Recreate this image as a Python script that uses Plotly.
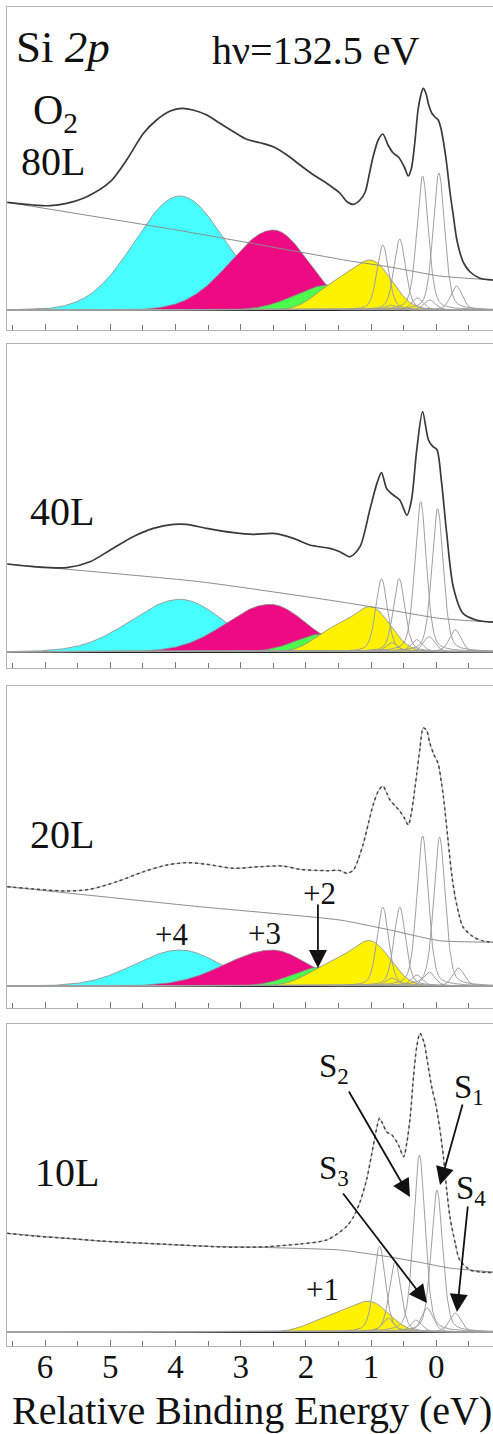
import numpy as np
import plotly.graph_objects as go

# ---------------------------------------------------------------------------
# Si 2p core-level spectra of Si surface after O2 exposure (hv = 132.5 eV)
# energies: relative binding energy (eV); intensities: arbitrary units
# ---------------------------------------------------------------------------
EXPOSURES = ["80L", "40L", "20L", "10L"]

# measured spectra  (E, I)
SPEC_80L = [(6.58, 107.7), (6.18, 105), (5.92, 104.3), (5.67, 106.7), (5.36, 113.3), (5.00, 128.3),
            (4.75, 150), (4.49, 176.7), (4.29, 190), (4.08, 199), (3.90, 201.7), (3.73, 200),
            (3.52, 195), (3.32, 186.7), (3.11, 178.3), (2.91, 170.7), (2.70, 167.3), (2.50, 163.3),
            (2.29, 155), (2.09, 145), (1.88, 135), (1.68, 126.7), (1.48, 117), (1.37, 108.3),
            (1.27, 105.7), (1.17, 110), (1.09, 118), (1.03, 135), (0.97, 153), (0.89, 170),
            (0.82, 176), (0.74, 165), (0.66, 157), (0.58, 153), (0.49, 143), (0.43, 134),
            (0.38, 142), (0.33, 167), (0.28, 200), (0.24, 214), (0.20, 221.7), (0.16, 217),
            (0.12, 206), (0.07, 197), (0.02, 193), (-0.03, 190), (-0.07, 182), (-0.10, 172),
            (-0.13, 160), (-0.16, 146), (-0.21, 118), (-0.26, 95), (-0.31, 72), (-0.36, 58),
            (-0.42, 47), (-0.52, 38), (-0.67, 31.7), (-0.87, 30)]
SPEC_40L = [(6.58, 87.7), (6.18, 85), (5.67, 84), (5.31, 90), (5.00, 101.7), (4.65, 115),
            (4.34, 123.3), (4.03, 127.3), (3.83, 127.3), (3.52, 123.3), (3.11, 119), (2.81, 117.3),
            (2.50, 118.3), (2.19, 113.3), (1.94, 106.7), (1.63, 103.3), (1.48, 100), (1.32, 95),
            (1.17, 105), (1.02, 141.7), (0.91, 168.3), (0.84, 179), (0.76, 163), (0.66, 156.7),
            (0.56, 151.7), (0.45, 136.5), (0.38, 151.7), (0.30, 201.7), (0.21, 240), (0.12, 211.7),
            (0.05, 205), (-0.01, 202), (-0.08, 170), (-0.16, 118.3), (-0.26, 65), (-0.41, 38.3),
            (-0.61, 31.7), (-0.87, 29.5)]
SPEC_20L = [(6.58, 99.3), (6.18, 97), (5.67, 95), (5.31, 96.7), (4.90, 104.3), (4.49, 114.3),
            (4.13, 121), (3.83, 123.3), (3.52, 121.7), (3.11, 117.7), (2.70, 119.3), (2.35, 120),
            (2.09, 116.7), (1.68, 115.3), (1.48, 115.5), (1.37, 112.7), (1.27, 116), (1.20, 126),
            (1.12, 142), (1.04, 163), (0.96, 183), (0.88, 196), (0.82, 200), (0.76, 193),
            (0.71, 186), (0.63, 180), (0.56, 175), (0.49, 168), (0.43, 161), (0.39, 170),
            (0.35, 187), (0.30, 212), (0.25, 238), (0.20, 258), (0.15, 256), (0.10, 243),
            (0.04, 232), (-0.03, 222), (-0.08, 203), (-0.11, 189), (-0.18, 146), (-0.24, 110),
            (-0.29, 89), (-0.35, 71), (-0.41, 59), (-0.57, 49), (-0.72, 45), (-0.87, 43.8)]
SPEC_10L = [(6.58, 98.7), (6.18, 96), (5.67, 93.7), (5.16, 91), (4.64, 89.3), (4.13, 87.7),
            (3.62, 86), (3.11, 84.7), (2.60, 85.3), (2.09, 88), (1.68, 92), (1.48, 100),
            (1.37, 106), (1.27, 115), (1.17, 130), (1.07, 152), (0.97, 185), (0.91, 205),
            (0.87, 213.7), (0.82, 208), (0.76, 200), (0.68, 197), (0.58, 187), (0.50, 175.3),
            (0.45, 190), (0.40, 215), (0.35, 255), (0.30, 285), (0.25, 298.7), (0.19, 290),
            (0.13, 268), (0.07, 245), (0.01, 228), (-0.05, 205), (-0.11, 175), (-0.16, 142),
            (-0.21, 115), (-0.29, 89), (-0.36, 72), (-0.52, 62), (-0.67, 60), (-0.87, 59.5)]

# Shirley-type backgrounds (E, I)
BG_80L = [(6.58, 107.7), (3.98, 80), (2.86, 67), (1.32, 49), (0.71, 43), (-0.05, 34), (-0.87, 30)]
BG_40L = [(6.58, 87.7), (3.63, 70), (1.48, 50), (0.71, 41.7), (-0.05, 33.3), (-0.87, 29.5)]
BG_20L = [(6.58, 99.3), (3.63, 79.3), (1.48, 66), (0.71, 56), (-0.05, 45.3), (-0.87, 43.8)]
BG_10L = [(6.58, 98.7), (5.16, 91), (3.62, 86), (2.60, 84.5), (1.48, 82), (0.71, 75),
          (0.20, 69), (-0.20, 64), (-0.87, 60)]

# oxide components: centre, height, FWHM (high-BE side), FWHM (low-BE side)
SI4_CENTER = [3.93, 3.93, 3.93, 3.93]
SI4_HEIGHT = [114, 52.3, 36, 0]
SI4_FWHM_HI = [1.63, 1.75, 1.63, 1.6]
SI4_FWHM_LO = [1.63, 1.55, 1.46, 1.5]
SI3_CENTER = [2.50, 2.55, 2.52, 2.52]
SI3_HEIGHT = [80, 47.4, 36, 0]
SI3_FWHM_HI = [1.55, 1.58, 1.68, 1.6]
SI3_FWHM_LO = [1.26, 1.30, 1.30, 1.3]
SI2_CENTER = [1.65, 1.72, 1.75, 1.7]
SI2_HEIGHT = [25, 18, 19, 0]
SI2_FWHM_HI = [1.2, 1.0, 1.05, 1.0]
SI2_FWHM_LO = [1.0, 1.0, 1.0, 1.0]
# Si1+ spin-orbit doublet: 2p3/2 and 2p1/2
SI1_CENTER = [0.97, 0.98, 0.98, 0.99]
SI1_HEIGHT = [46, 42, 40, 27]
SI1_FWHM = [0.70, 0.66, 0.68, 0.66]
SI1_SO_CENTER = [1.57, 1.58, 1.60, 1.58]
SI1_SO_HEIGHT = [23, 21, 21, 15]
SI1_SO_FWHM = [0.72, 0.70, 0.85, 0.80]

# substrate / surface lines S1..S4, each a 2p3/2 + 2p1/2 pair
S1_CENTER = [-0.04, -0.02, -0.05, -0.01]
S1_HEIGHT = [137, 143, 149, 142]
S1_SO_CENTER = [0.56, 0.57, 0.56, 0.63]
S1_SO_HEIGHT = [71, 73, 79, 70]
S2_CENTER = [0.21, 0.24, 0.21, 0.26]
S2_HEIGHT = [134, 150, 150, 177]
S2_SO_CENTER = [0.82, 0.84, 0.82, 0.87]
S2_SO_HEIGHT = [65, 73, 79, 86]
S3_CENTER = [0.10, 0.11, 0.11, 0.14]
S3_HEIGHT = [10, 15, 14, 24]
S3_SO_CENTER = [0.70, 0.68, 0.68, 0.74]
S3_SO_HEIGHT = [5, 9, 8, 14]
S4_CENTER = [-0.31, -0.29, -0.34, -0.29]
S4_HEIGHT = [24, 22, 18, 19]
S4_SO_CENTER = [0.29, 0.30, 0.30, 0.31]
S4_SO_HEIGHT = [12, 12, 11, 12]
LINE_FWHM = 0.21
LINE_ETA = 0.35

SPECTRA = [SPEC_80L, SPEC_40L, SPEC_20L, SPEC_10L]
BACKGROUNDS = [BG_80L, BG_40L, BG_20L, BG_10L]

# ---------------------------------------------------------------------------
# line shapes
# ---------------------------------------------------------------------------
LN2x4 = 4 * np.log(2)


def gauss(e, c, h, w):
    return h * np.exp(-LN2x4 * ((e - c) / w) ** 2)


def bigauss(e, c, h, w_hi, w_lo):
    w = np.where(e >= c, w_hi, w_lo)
    return gauss(e, c, h, w)


def pseudo_voigt(e, c, h, w, eta):
    x = (e - c) / w
    return h * ((1 - eta) * np.exp(-LN2x4 * x ** 2) + eta / (1 + 4 * x ** 2))


# ---------------------------------------------------------------------------
# page geometry (pixels)
# ---------------------------------------------------------------------------
FIG_W, FIG_H = 493, 1434
M_L, M_R, M_T, M_B = 7, 0, 7, 88
PANEL_TOP = [7, 344, 686, 1024]
PANEL_BOTTOM = [330, 668, 1008, 1346]
BASELINE = [310, 651.7, 986, 1332]
PLOT_H = FIG_H - M_T - M_B
PLOT_W = FIG_W - M_L - M_R
X_RANGE = [6.584, -0.870]

SERIF = "Liberation Serif, Times New Roman, serif"
FRAME = "#b4b4b4"
CYAN, MAGENTA, GREEN, YELLOW = "#48FFFF", "#EE0A82", "#4CFF4C", "#FFF200"


def paper(xp, yp):
    return (xp - M_L) / PLOT_W, (FIG_H - M_B - yp) / PLOT_H


E = np.linspace(X_RANGE[0], X_RANGE[1], 1500)

fig = go.Figure()

for i in range(4):
    xa = "x" if i == 0 else f"x{i + 1}"
    ya = "y" if i == 0 else f"y{i + 1}"

    fills = [
        (bigauss(E, SI4_CENTER[i], SI4_HEIGHT[i], SI4_FWHM_HI[i], SI4_FWHM_LO[i]), CYAN),
        (bigauss(E, SI3_CENTER[i], SI3_HEIGHT[i], SI3_FWHM_HI[i], SI3_FWHM_LO[i]), MAGENTA),
        (bigauss(E, SI2_CENTER[i], SI2_HEIGHT[i], SI2_FWHM_HI[i], SI2_FWHM_LO[i]), GREEN),
        (gauss(E, SI1_CENTER[i], SI1_HEIGHT[i], SI1_FWHM[i])
         + gauss(E, SI1_SO_CENTER[i], SI1_SO_HEIGHT[i], SI1_SO_FWHM[i]), YELLOW),
    ]
    for y, col in fills:
        if y.max() <= 0:
            continue
        fig.add_trace(go.Scatter(x=E, y=y, mode="lines", fill="tozeroy", fillcolor=col,
                                 line=dict(color="#8a8a8a", width=0.8),
                                 xaxis=xa, yaxis=ya, hoverinfo="skip", showlegend=False))

    lines = [
        (S1_CENTER[i], S1_HEIGHT[i]), (S1_SO_CENTER[i], S1_SO_HEIGHT[i]),
        (S2_CENTER[i], S2_HEIGHT[i]), (S2_SO_CENTER[i], S2_SO_HEIGHT[i]),
        (S3_CENTER[i], S3_HEIGHT[i]), (S3_SO_CENTER[i], S3_SO_HEIGHT[i]),
        (S4_CENTER[i], S4_HEIGHT[i]), (S4_SO_CENTER[i], S4_SO_HEIGHT[i]),
    ]
    for c, h in lines:
        fig.add_trace(go.Scatter(x=E, y=pseudo_voigt(E, c, h, LINE_FWHM, LINE_ETA), mode="lines",
                                 line=dict(color="#a0a0a0", width=1),
                                 xaxis=xa, yaxis=ya, hoverinfo="skip", showlegend=False))

    bg = BACKGROUNDS[i]
    fig.add_trace(go.Scatter(x=[p[0] for p in bg], y=[p[1] for p in bg], mode="lines",
                             line=dict(color="#8c8c8c", width=1, shape="spline", smoothing=0.5),
                             xaxis=xa, yaxis=ya, hoverinfo="skip", showlegend=False))

    sp = SPECTRA[i]
    sx = [p[0] for p in sp]
    sy = [p[1] for p in sp]
    if i < 2:
        fig.add_trace(go.Scatter(x=sx, y=sy, mode="lines",
                                 line=dict(color="#3a3a3a", width=1.7, shape="spline", smoothing=0.8),
                                 xaxis=xa, yaxis=ya, hoverinfo="skip", showlegend=False))
    else:
        fig.add_trace(go.Scatter(x=sx, y=sy, mode="lines",
                                 line=dict(color="#a8a8a8", width=0.8, shape="spline", smoothing=0.8),
                                 xaxis=xa, yaxis=ya, hoverinfo="skip", showlegend=False))
        fig.add_trace(go.Scatter(x=sx, y=sy, mode="lines",
                                 line=dict(color="#454545", width=1.5, dash="dot",
                                           shape="spline", smoothing=0.8),
                                 xaxis=xa, yaxis=ya, hoverinfo="skip", showlegend=False))

    # axes
    dom = [paper(0, PANEL_BOTTOM[i])[1], paper(0, PANEL_TOP[i])[1]]
    yr = [-(PANEL_BOTTOM[i] - BASELINE[i]), BASELINE[i] - PANEL_TOP[i]]
    xkey = "xaxis" if i == 0 else f"xaxis{i + 1}"
    ykey = "yaxis" if i == 0 else f"yaxis{i + 1}"
    fig.layout[xkey] = dict(
        domain=[0, 1], anchor=ya, range=X_RANGE, showgrid=False, zeroline=False,
        showline=True, linecolor=FRAME, linewidth=1, mirror=True,
        ticks="inside", ticklen=6, tickwidth=1, tickcolor="#777", tick0=0, dtick=1,
        minor=dict(ticks="inside", ticklen=5, tickwidth=1, tickcolor="#777", dtick=0.5, showgrid=False),
        showticklabels=(i == 3),
        tickfont=dict(family=SERIF, size=33, color="#111"),
        ticklabelstandoff=-9,
    )
    fig.layout[ykey] = dict(
        domain=dom, anchor=xa, range=yr, showgrid=False,
        zeroline=True, zerolinecolor="#222", zerolinewidth=2,
        showline=True, linecolor=FRAME, linewidth=1, mirror=False,
        ticks="", showticklabels=False,
    )

# ---------------------------------------------------------------------------
# labels
# ---------------------------------------------------------------------------
annotations = []


def label(text, xp, yp, size, **kw):
    px, py = paper(xp, yp)
    annotations.append(dict(text=text, x=px, y=py, xref="paper", yref="paper",
                            xanchor="center", yanchor="middle", showarrow=False,
                            font=dict(family=SERIF, size=size, color="#111"), **kw))


label("Si <i>2p</i>", 63, 47, 45)
label("hν=132.5 eV", 315, 50, 40)
label("O<sub>2</sub>", 55, 113, 42)
label(EXPOSURES[0], 53, 161, 40)
label(EXPOSURES[1], 62, 511, 40)
label(EXPOSURES[2], 62, 834, 40)
label(EXPOSURES[3], 67, 1172, 40)
label("+4", 171, 934, 31)
label("+3", 264, 933, 31)
label("+2", 319, 893, 31)
label("+1", 322, 1289, 31)
label("S<sub>2</sub>", 334, 1068, 33)
label("S<sub>1</sub>", 469, 1089, 33)
label("S<sub>3</sub>", 334, 1170, 33)
label("S<sub>4</sub>", 471, 1190, 33)
label("Relative Binding Energy (eV)", 252, 1410, 40)


def arrow(xa, ya, e_tip, i_tip, dx, dy):
    annotations.append(dict(x=e_tip, y=i_tip, xref=xa, yref=ya, ax=dx, ay=dy, text="",
                            showarrow=True, arrowhead=2, arrowsize=2.0, arrowwidth=1.8,
                            arrowcolor="#111", standoff=0))


arrow("x3", "y3", 1.815, 18, 0, -65)
arrow("x4", "y4", 0.403, 135, -62, -107)
arrow("x4", "y4", -0.057, 147, 23, -82)
arrow("x4", "y4", 0.143, 29, -85, -111)
arrow("x4", "y4", -0.317, 20, 11, -107)

fig.update_layout(
    width=FIG_W, height=FIG_H,
    margin=dict(l=M_L, r=M_R, t=M_T, b=M_B, pad=0),
    paper_bgcolor="white", plot_bgcolor="white",
    annotations=annotations, showlegend=False,
)

fig.write_html("out.html")
